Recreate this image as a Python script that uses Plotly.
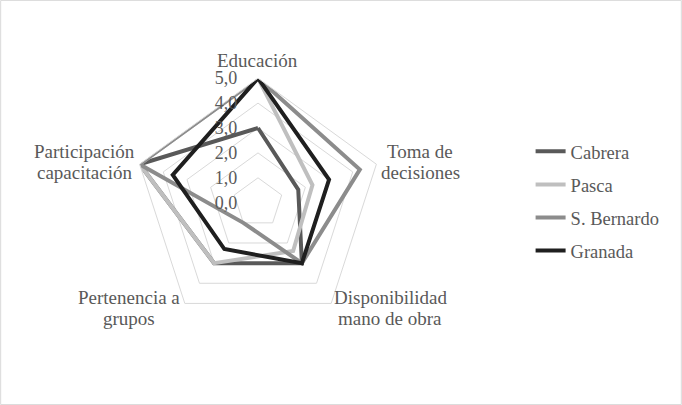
import plotly.graph_objects as go

categories = ["Educación", "Toma de<br>decisiones", "Disponibilidad<br>mano de obra",
              "Pertenencia a<br>grupos", "Participación<br>capacitación"]
series_names = ["Cabrera", "Pasca", "S. Bernardo", "Granada"]
cabrera = [3.0, 1.7, 3.0, 3.0, 5.0]
pasca = [5.0, 2.3, 2.4, 3.0, 5.0]
s_bernardo = [5.0, 4.3, 3.0, 1.0, 5.0]
granada = [5.0, 3.0, 3.0, 2.3, 3.6]
tick_vals = [0, 1, 2, 3, 4, 5]
tick_text = ["0,0", "1,0", "2,0", "3,0", "4,0", "5,0"]

colors = ["#595959", "#bfbfbf", "#8c8c8c", "#1f1f1f"]
values = [cabrera, pasca, s_bernardo, granada]
FONT = "Liberation Serif"
TXT = "#595959"

fig = go.Figure()
for name, vals, col in zip(series_names, values, colors):
    fig.add_trace(go.Scatterpolar(
        r=vals + [vals[0]], theta=categories + [categories[0]],
        mode="lines", name=name, legendgroup=name,
        line=dict(color=col, width=4),
    ))

W, H = 682, 405
# category label placement (pixel anchors), one entry per category
label_pos = [(257, 61), (420, 162), (390, 308), (129, 308), (84, 162)]
annotations = []
for cat, (px, py) in zip(categories, label_pos):
    lines = cat.split("<br>")
    n = len(lines)
    for i, ln in enumerate(lines):
        yy = py + (i - (n - 1) / 2) * 21.6
        annotations.append(dict(text=ln, x=px / W, y=1 - yy / H, xref="paper", yref="paper",
                                xanchor="center", yanchor="middle", showarrow=False,
                                font=dict(family=FONT, size=19, color=TXT)))

fig.update_layout(
    width=W, height=H,
    margin=dict(l=0, r=0, t=0, b=0),
    paper_bgcolor="white",
    font=dict(family=FONT, size=18.5, color=TXT),
    polar=dict(
        domain=dict(x=[0.1957, 0.5609], y=[0.1921, 0.8069]),
        gridshape="linear",
        bgcolor="white",
        radialaxis=dict(range=[0, 5], tickvals=tick_vals, ticktext=tick_text,
                        angle=90, tickangle=90, showline=False,
                        ticks="outside", ticklen=14, tickcolor="rgba(0,0,0,0)",
                        gridcolor="#d9d9d9", gridwidth=1, side="counterclockwise",
                        tickfont=dict(family=FONT, size=18, color=TXT)),
        angularaxis=dict(direction="clockwise", rotation=90, showgrid=False,
                         showline=True, linecolor="#d9d9d9", linewidth=1, ticks="",
                         showticklabels=False),
    ),
    legend=dict(x=0.778, y=0.672, xanchor="left", yanchor="top",
                tracegroupgap=6, font=dict(family=FONT, size=18.5, color=TXT),
                bgcolor="rgba(0,0,0,0)"),
    annotations=annotations,
    shapes=[dict(type="rect", xref="paper", yref="paper", x0=0.001, y0=0.001, x1=0.999, y1=0.999,
                 line=dict(color="#d9d9d9", width=1))],
)
fig.write_html("out.html", config={"displayModeBar": False},
               post_script="document.body.style.margin='0';")
